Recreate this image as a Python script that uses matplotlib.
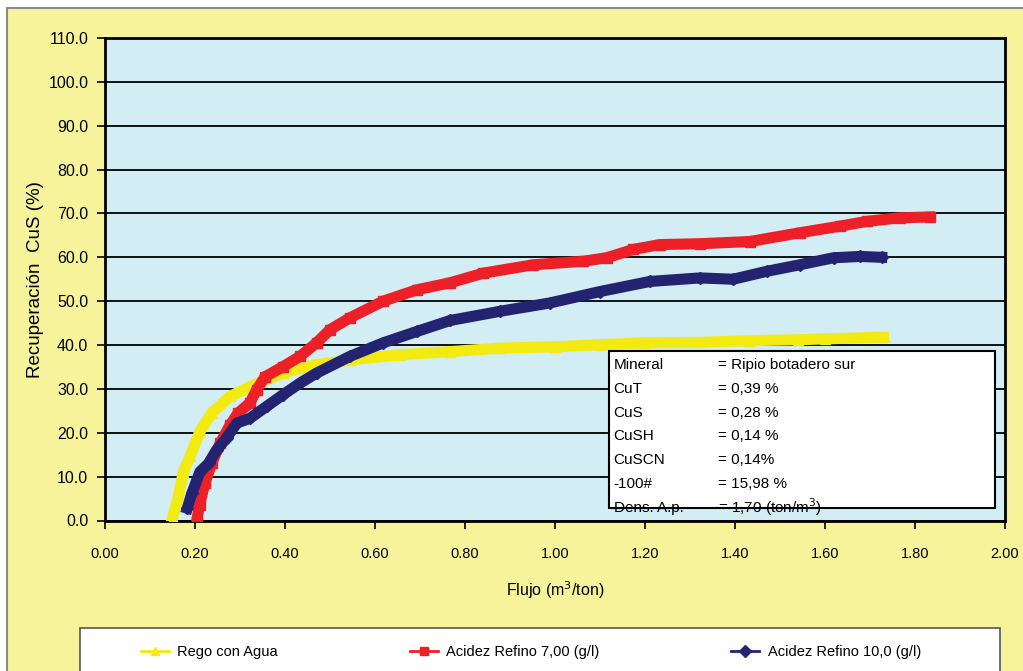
import matplotlib.pyplot as plt
from matplotlib.patches import Rectangle

# flujo (m3/ton) vs recuperacion CuS (%)
agua_x = [0.150, 0.163, 0.174, 0.189, 0.211, 0.237, 0.278, 0.322, 0.396, 0.470, 0.544,
          0.656, 0.767, 0.878, 1.00, 1.10, 1.20, 1.32, 1.43, 1.54, 1.60, 1.73]
agua_y = [0.6, 5.4, 11.1, 14.6, 20.3, 24.5, 28.3, 30.5, 33.7, 35.5, 36.6,
          37.8, 38.5, 39.3, 39.6, 40.1, 40.5, 40.6, 41.0, 41.2, 41.4, 41.8]

refino7_x = [0.204, 0.210, 0.222, 0.237, 0.256, 0.278, 0.296, 0.322, 0.337, 0.356, 0.396,
             0.433, 0.470, 0.500, 0.544, 0.618, 0.693, 0.767, 0.841, 0.952, 1.063, 1.115,
             1.174, 1.233, 1.322, 1.433, 1.544, 1.633, 1.693, 1.767, 1.833]
refino7_y = [0.0, 3.5, 8.5, 13.0, 17.6, 21.8, 24.5, 26.8, 29.8, 32.8, 35.1,
             37.4, 40.5, 43.5, 46.2, 50.0, 52.6, 54.2, 56.4, 58.3, 59.1, 59.9,
             61.8, 62.9, 63.1, 63.6, 65.6, 67.1, 68.2, 69.0, 69.2]

refino10_x = [0.183, 0.193, 0.211, 0.230, 0.248, 0.270, 0.293, 0.322, 0.359, 0.396, 0.433,
              0.470, 0.544, 0.618, 0.693, 0.767, 0.878, 0.989, 1.100, 1.211, 1.322, 1.396,
              1.470, 1.544, 1.619, 1.678, 1.726]
refino10_y = [2.8, 6.2, 11.1, 13.0, 16.1, 18.8, 22.2, 23.3, 26.0, 28.7, 31.3,
              33.6, 37.4, 40.5, 43.1, 45.6, 47.7, 49.6, 52.2, 54.5, 55.3, 55.0,
              56.8, 58.3, 59.9, 60.2, 60.0]

info_labels = ["Mineral", "CuT", "CuS", "CuSH", "CuSCN", "-100#", "Dens. A.p."]
info_values = ["= Ripio botadero sur", "= 0,39 %", "= 0,28 %", "= 0,14 %",
               "= 0,14%", "= 15,98 %", "= 1,70 (ton/m$^3$)"]

plt.rcParams['font.family'] = ["Liberation Sans", "DejaVu Sans"]

fig = plt.figure(figsize=(10.23, 6.71), dpi=100, facecolor="white")

# yellow chart area with grey border
fig.patches.append(Rectangle((7 / 1023, -0.1), 1.2, 1 - 8 / 671 + 0.1,
                             transform=fig.transFigure, facecolor="#F7F39B",
                             edgecolor="#8C8C8C", lw=1.5, zorder=-2))

ax = fig.add_axes([105 / 1023, 1 - 520.5 / 671, 900 / 1023, 482.5 / 671])
ax.set_facecolor("#D2EDF3")

ax.plot(agua_x, agua_y, color="#F3EA12", lw=8, marker="^", ms=7,
        label="Rego con Agua", zorder=3)
ax.plot(refino7_x, refino7_y, color="#EE2027", lw=8, marker="s", ms=7,
        label="Acidez Refino 7,00 (g/l)", zorder=4)
ax.plot(refino10_x, refino10_y, color="#232372", lw=8, marker="D", ms=6,
        label="Acidez Refino 10,0 (g/l)", zorder=5)

ax.set_xlim(0, 2.0)
ax.set_ylim(0, 110)
ax.set_xticks([i * 0.2 for i in range(11)])
ax.set_xticklabels(["%.2f" % (i * 0.2) for i in range(11)], fontsize=10.5)
ax.set_yticks(range(0, 111, 10))
ax.set_yticklabels(["%.1f" % v for v in range(0, 111, 10)], fontsize=11.5)
ax.tick_params(axis="x", direction="out", length=6, width=1.2, pad=13)
ax.tick_params(axis="y", direction="out", length=6, width=1.2, pad=6)
ax.grid(axis="y", color="black", lw=1.3, zorder=1)
ax.set_axisbelow(True)
for s in ax.spines.values():
    s.set_linewidth(2)
    s.set_color("black")

ax.set_xlabel("Flujo (m$^3$/ton)", fontsize=11.5, labelpad=13)
ax.set_ylabel("Recuperación  CuS (%)", fontsize=13.5, labelpad=3)

# info box, last row is cut by the frame
box = Rectangle((0.56, 0.026), 0.429, 0.325, transform=ax.transAxes,
                facecolor="white", edgecolor="black", lw=1.5, zorder=6)
ax.add_patch(box)
for i, (lab, val) in enumerate(zip(info_labels, info_values)):
    y = 0.322 - i * 0.0492
    t1 = ax.text(0.565, y, lab, transform=ax.transAxes,
                 fontsize=11, va="center", zorder=7)
    t2 = ax.text(0.681, y, val, transform=ax.transAxes,
                 fontsize=11, va="center", zorder=7)
    t1.set_clip_path(box)
    t2.set_clip_path(box)

# legend box at the bottom
fig.patches.append(Rectangle((80 / 1023, -0.1), 920 / 1023, 0.1 + 43 / 671,
                             transform=fig.transFigure, facecolor="white",
                             edgecolor="#555555", lw=1.2, zorder=-1))
leg = fig.legend(loc="center", bbox_to_anchor=(135 / 1023, 1 - 667 / 671, 792 / 1023, 30 / 671),
                 ncol=3, mode="expand", frameon=False, handlelength=1.9,
                 handletextpad=0.6, prop={"size": 10.5}, borderaxespad=0)
for h in leg.legend_handles:
    h.set_linewidth(2)
    h.set_markersize(6)

fig.savefig("out.png", dpi=100, facecolor=fig.get_facecolor())
